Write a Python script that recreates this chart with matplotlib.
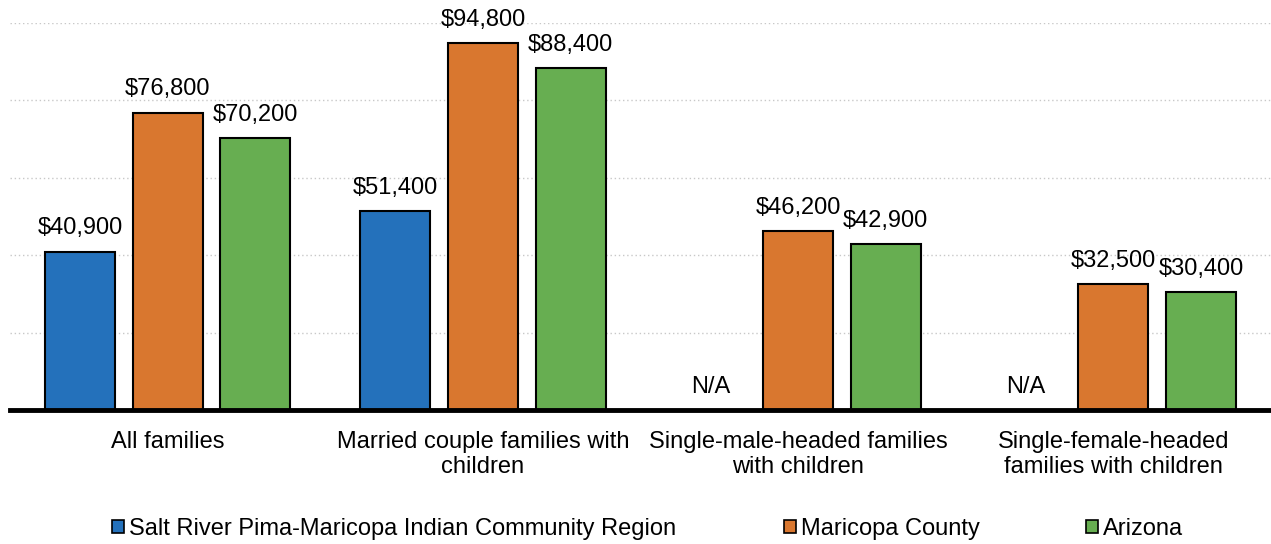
import numpy as np
import matplotlib.pyplot as plt
from matplotlib.patches import Patch

plt.rcParams['font.family'] = ['Liberation Sans', 'DejaVu Sans']

categories = ["All families", "Married couple families with\nchildren",
              "Single-male-headed families\nwith children",
              "Single-female-headed\nfamilies with children"]
series = ["Salt River Pima-Maricopa Indian Community Region", "Maricopa County", "Arizona"]
srpmic = [40900, 51400, None, None]
maricopa = [76800, 94800, 46200, 32500]
arizona = [70200, 88400, 42900, 30400]
colors = ["#2471BB", "#D9772F", "#67AE51"]

fig = plt.figure(figsize=(12.71, 5.44), dpi=100)
ax = fig.add_axes([10/1271, 1 - 410/544, 1 - 10/1271, (410 - 23)/544])

x = np.arange(len(categories))
pitch = 0.278
width = 0.222
for i, (vals, c) in enumerate(zip([srpmic, maricopa, arizona], colors)):
    for j, v in enumerate(vals):
        xp = x[j] + (i - 1) * pitch
        if v is None:
            ax.text(xp, 3000, "N/A", ha='center', va='bottom', fontsize=17)
            continue
        ax.bar(xp, v, width, color=c, edgecolor='black', linewidth=1.5, zorder=3)
        ax.text(xp, v + 3200, "${:,}".format(v), ha='center', va='bottom', fontsize=17, clip_on=False)

ax.set_xlim(-0.5, 3.5)
ax.set_ylim(0, 100000)
ax.set_yticks(np.arange(20000, 100001, 20000))
ax.yaxis.grid(True, linestyle=(0, (1, 2)), color='#c8c8c8', linewidth=1)
ax.set_axisbelow(True)
ax.tick_params(axis='y', left=False, labelleft=False)
ax.tick_params(axis='x', length=0, pad=15, labelsize=17)
ax.set_xticks(x)
ax.set_xticklabels(categories, linespacing=1.2)
for s in ['top', 'right', 'left']:
    ax.spines[s].set_visible(False)
ax.spines['bottom'].set_linewidth(3.5)
ax.spines['bottom'].set_zorder(4)

# legend entries placed at their own x positions
legend_x = [112, 784, 1086]
for name, c, lx in zip(series, colors, legend_x):
    fig.legend([Patch(facecolor=c, edgecolor='black', linewidth=1.2)], [name],
               loc='center left', bbox_to_anchor=(lx / 1271, 1 - 529/544),
               frameon=False, fontsize=17, handlelength=0.5, handleheight=0.5,
               handletextpad=0.2, borderpad=0, borderaxespad=0)

fig.savefig("out.png", dpi=100)
